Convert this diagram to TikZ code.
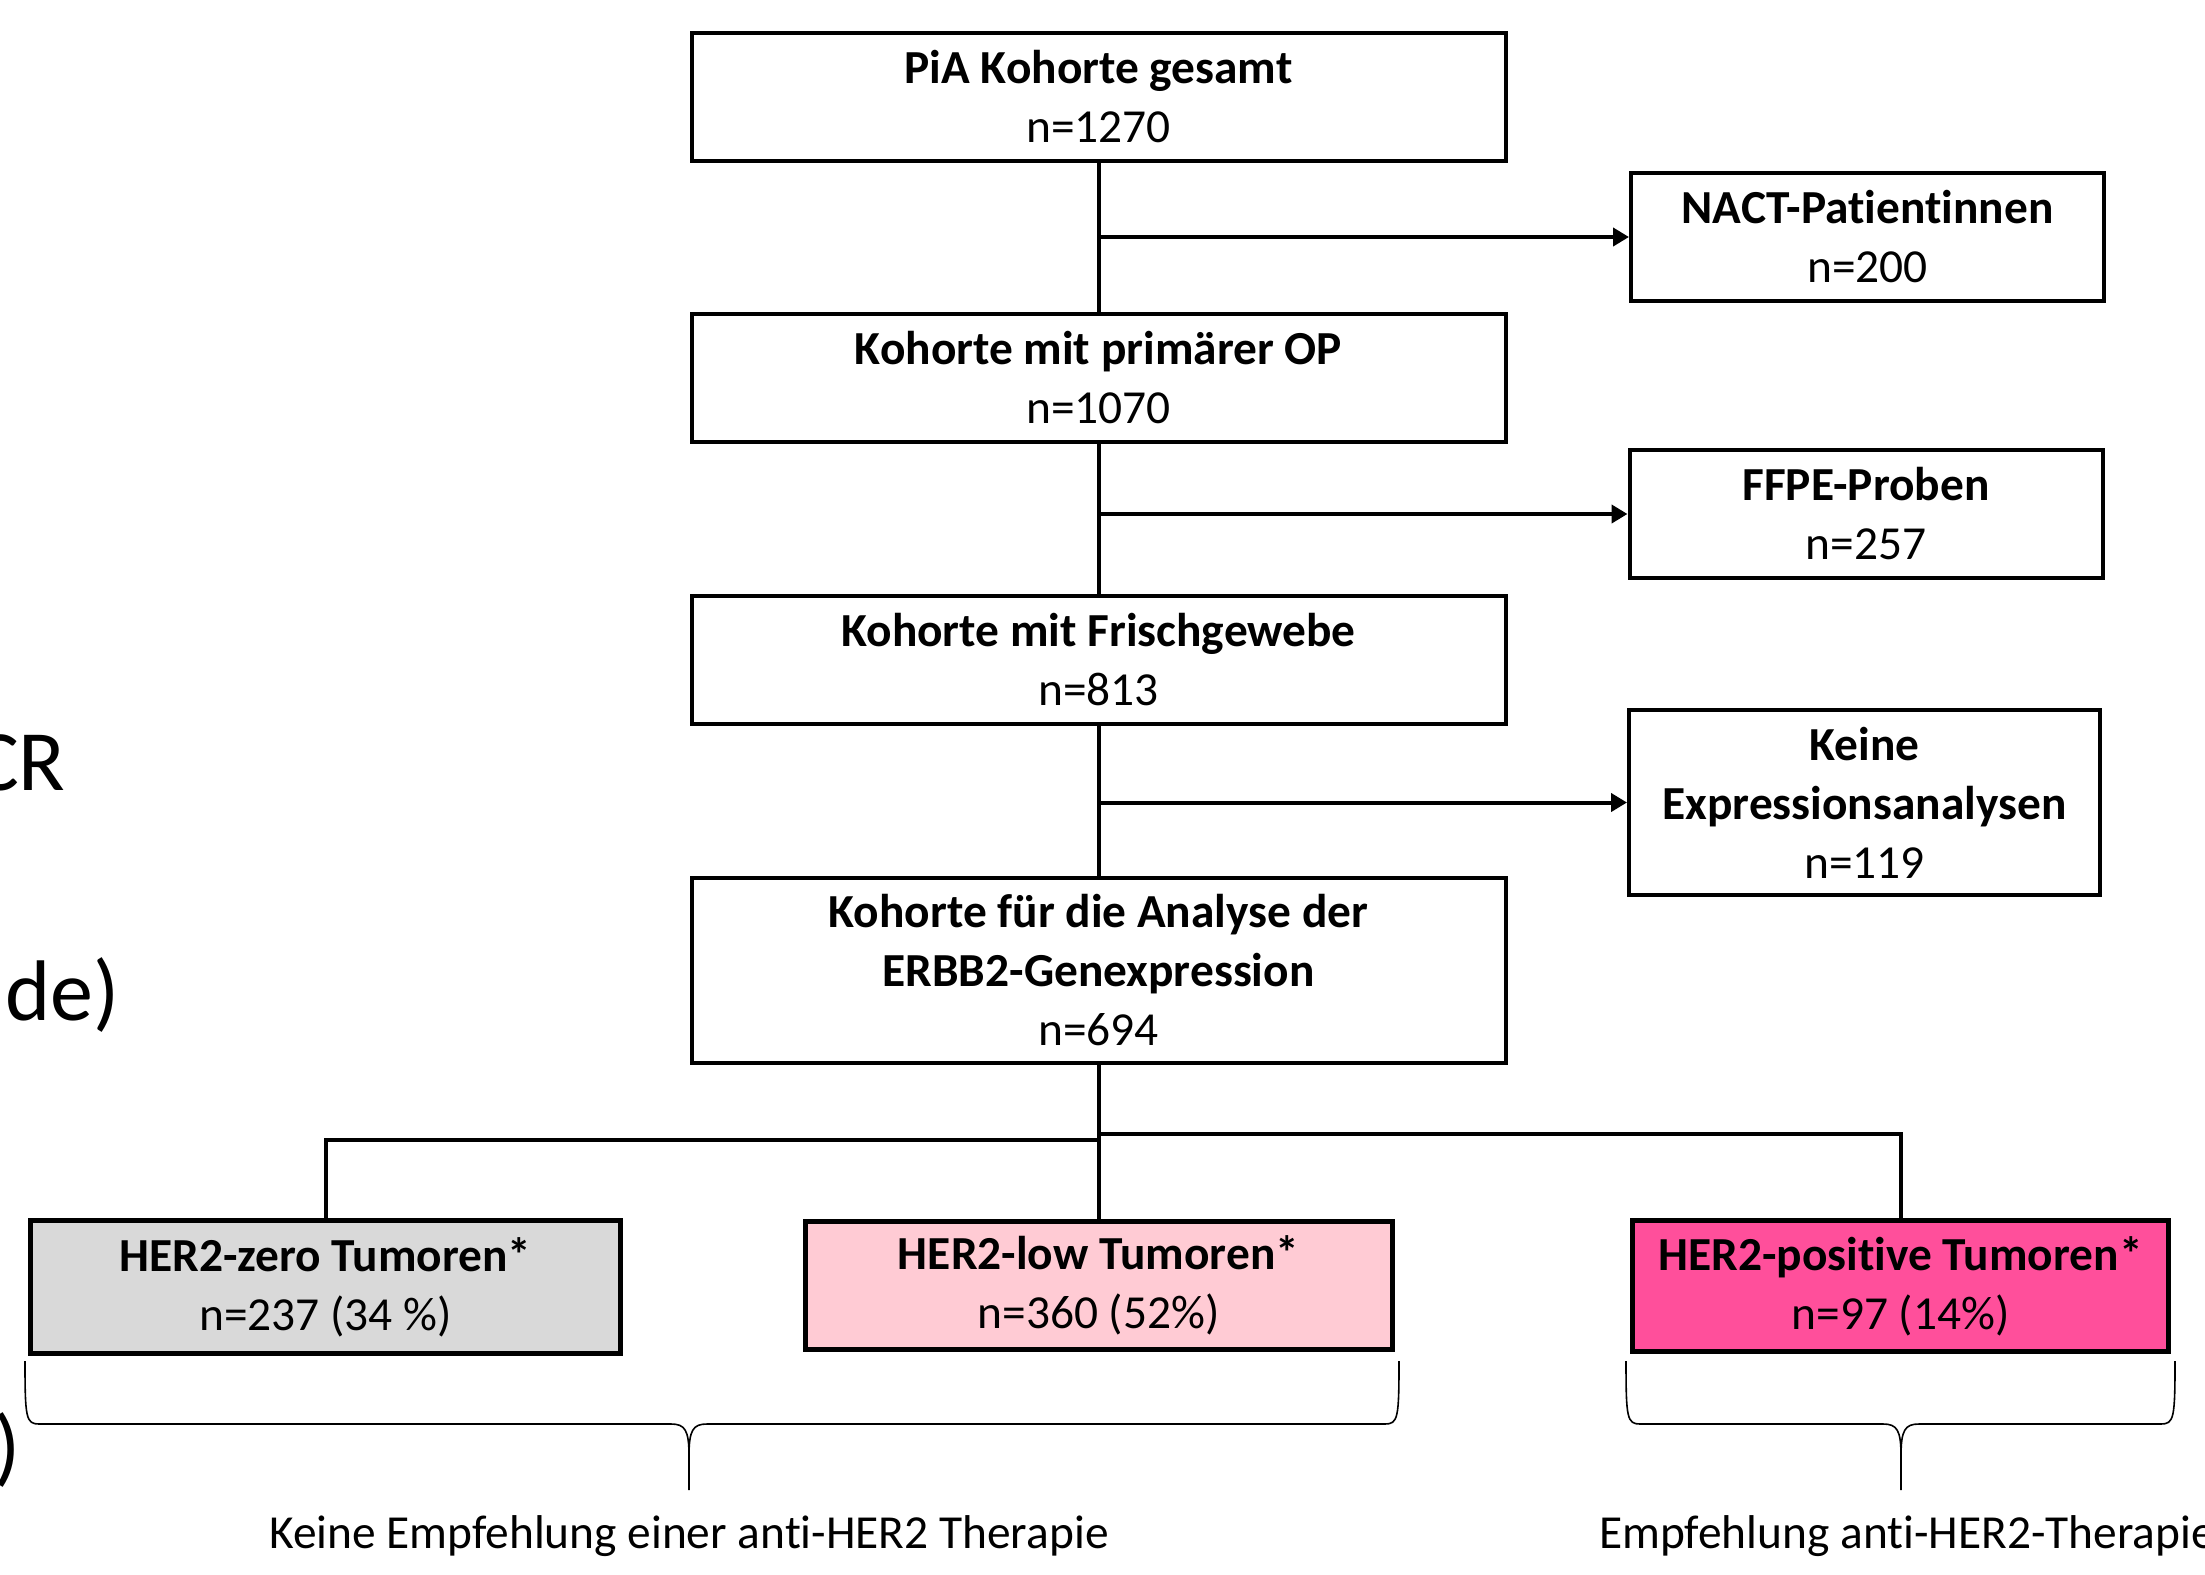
\documentclass[tikz,border=0pt]{standalone}
\usepackage{fontspec}
\setmainfont{Carlito}[Ligatures=NoCommon]
\usepackage{tikz}
\usetikzlibrary{arrows.meta,positioning,calc}
\tikzset{>={Triangle[length=8pt,width=9pt]}}
\definecolor{herzero}{HTML}{D9D9D9}
\definecolor{herlow}{HTML}{FFCBD4}
\definecolor{herpos}{HTML}{FF4F9B}
\tikzstyle{box}=[
	 draw, line width=2pt,
	 align=center, inner sep=0pt,
	 minimum width=407pt, minimum height=64pt,
	 font=\fontsize{23.7}{29.5}\selectfont
    ]
\tikzstyle{side}=[box, minimum width=236.5pt]
\tikzstyle{grp}=[box, line width=2.5pt]
\tikzstyle{conn}=[line width=2pt]
\tikzstyle{note}=[inner sep=0pt, font=\fontsize{23.7}{29.5}\selectfont]
\tikzstyle{cut}=[inner sep=0pt, font=\fontsize{43}{52}\selectfont]
% curly bracket: left x, tip x, right x
\newcommand{\curly}[3]{\draw[line width=0.8pt] (#1,1361) .. controls (#1,1418) and (#1+1,1424) .. (#1+14,1424) -- (#2-18,1424) .. controls (#2-4,1424) and (#2,1430) .. (#2,1456) -- (#2,1490);
\draw[line width=0.8pt] (#3,1361) .. controls (#3,1418) and (#3-1,1424) .. (#3-14,1424) -- (#2+18,1424) .. controls (#2+4,1424) and (#2,1430) .. (#2,1456)}

\begin{document}
\begin{tikzpicture}[x=0.5pt,y=-0.5pt]
\useasboundingbox (0,0) rectangle (2205,1574);

\node[box] (P1) at (1098.5,97) {\textbf{PiA Kohorte gesamt}\\n=1270};
\node[box,below=74.5pt of P1] (P2) {\textbf{Kohorte mit primärer OP}\\n=1070};
\node[box,below=75pt of P2] (P3) {\textbf{Kohorte mit Frischgewebe}\\n=813};
\node[box,below=75pt of P3,minimum height=92.5pt] (P4) {\textbf{Kohorte für die Analyse der}\\\textbf{ERBB2-Genexpression}\\n=694};

\node[side] (N1) at (1867.5,237) {\textbf{NACT-Patientinnen}\\n=200};
\node[side] (N2) at (1866,514) {\textbf{FFPE-Proben}\\n=257};
\node[side,minimum width=235.5pt,minimum height=92.5pt] (N3) at (1864.5,802.5) {\textbf{Keine}\\\textbf{Expressionsanalysen}\\n=119};

\node[grp,fill=herzero,minimum width=295pt,minimum height=66.5pt] (H0) at (325.5,1287) {\textbf{HER2-zero Tumoren*}\\n=237 (34 \%)};
\node[grp,fill=herlow,below=77pt of P4,minimum width=293.5pt] (HL) {\textbf{HER2-low Tumoren*}\\n=360 (52\%)};
\node[grp,fill=herpos,minimum width=268pt,minimum height=65.5pt] (Hp) at (1900.5,1286) {\textbf{HER2-positive Tumoren*}\\n=97 (14\%)};

\draw[conn] (P1.south) -- (P2.north);
\draw[conn] (P2.south) -- (P3.north);
\draw[conn] (P3.south) -- (P4.north);
\draw[conn,->] (P1.south |- N1) -- (N1.west);
\draw[conn,->] (P2.south |- N2) -- (N2.west);
\draw[conn,->] (P3.south |- N3) -- (N3.west);

\coordinate (forkL) at (1098,1140);
\coordinate (forkR) at (1098,1134);
\draw[conn] (P4.south) -- (HL.north);
\draw[conn] (forkL) -| (H0.north);
\draw[conn] (forkR) -| (Hp.north);

\curly{25}{689}{1399};
\curly{1626}{1901}{2175};

\node[note] (T0) at (689,1536) {Keine Empfehlung einer anti-HER2 Therapie};
\node[note,anchor=west] (T1) at (1599,1536) {Empfehlung anti-HER2-Therapie};

% cut-off text at the left edge
\node[cut,anchor=base east] (C1) at (66,790) {CR};
\node[cut,anchor=base east] (C2) at (120,1020) {de)};
\node[cut,anchor=base east] (C3) at (21,1475) {)};

\end{tikzpicture}
\end{document}
